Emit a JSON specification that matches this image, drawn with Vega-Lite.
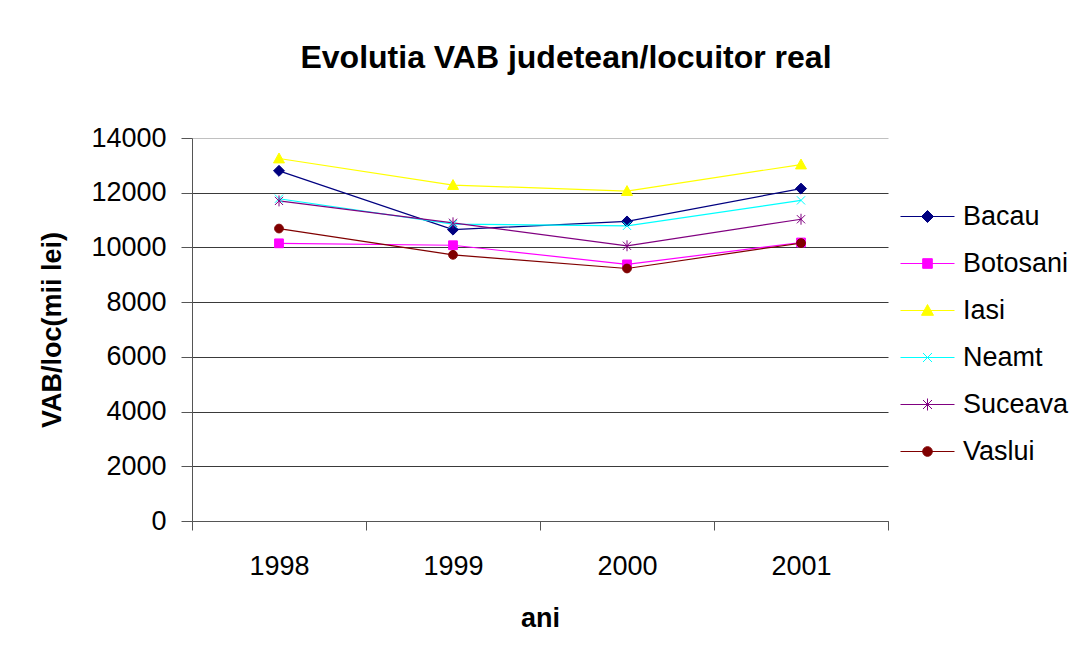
{
  "$schema": "https://vega.github.io/schema/vega-lite/v6.json",
  "width": 696,
  "height": 383,
  "autosize": {"type": "none"},
  "padding": {"left": 192, "top": 138, "right": 194, "bottom": 138},
  "background": "white",
  "title": {
    "text": "Evolutia VAB judetean/locuitor real",
    "font": "Liberation Sans",
    "fontSize": 32,
    "fontWeight": "bold",
    "color": "black",
    "anchor": "middle",
    "dx": 26,
    "offset": 49
  },
  "config": {
    "view": {"stroke": null},
    "font": "Liberation Sans"
  },
  "data": {
    "values": [
      {"ani": 1998, "judet": "Bacau", "vab": 12800},
      {"ani": 1999, "judet": "Bacau", "vab": 10650},
      {"ani": 2000, "judet": "Bacau", "vab": 10950},
      {"ani": 2001, "judet": "Bacau", "vab": 12150},
      {"ani": 1998, "judet": "Botosani", "vab": 10150},
      {"ani": 1999, "judet": "Botosani", "vab": 10080},
      {"ani": 2000, "judet": "Botosani", "vab": 9380},
      {"ani": 2001, "judet": "Botosani", "vab": 10180},
      {"ani": 1998, "judet": "Iasi", "vab": 13250},
      {"ani": 1999, "judet": "Iasi", "vab": 12280},
      {"ani": 2000, "judet": "Iasi", "vab": 12060},
      {"ani": 2001, "judet": "Iasi", "vab": 13030},
      {"ani": 1998, "judet": "Neamt", "vab": 11780},
      {"ani": 1999, "judet": "Neamt", "vab": 10850},
      {"ani": 2000, "judet": "Neamt", "vab": 10790},
      {"ani": 2001, "judet": "Neamt", "vab": 11720},
      {"ani": 1998, "judet": "Suceava", "vab": 11700},
      {"ani": 1999, "judet": "Suceava", "vab": 10900},
      {"ani": 2000, "judet": "Suceava", "vab": 10060},
      {"ani": 2001, "judet": "Suceava", "vab": 11030},
      {"ani": 1998, "judet": "Vaslui", "vab": 10690},
      {"ani": 1999, "judet": "Vaslui", "vab": 9730},
      {"ani": 2000, "judet": "Vaslui", "vab": 9230},
      {"ani": 2001, "judet": "Vaslui", "vab": 10160}
    ]
  },
  "encoding": {
    "x": {
      "field": "ani",
      "type": "quantitative",
      "scale": {"domain": [1997.5, 2001.5], "nice": false, "zero": false},
      "axis": {
        "title": "ani",
        "titleFont": "Liberation Sans",
        "titleFontSize": 27,
        "titleFontWeight": "bold",
        "titleColor": "black",
        "titlePadding": 26,
        "values": [1997.5, 1998.5, 1999.5, 2000.5, 2001.5],
        "labelExpr": "datum.value < 2001 ? toString(datum.value + 0.5) : ''",
        "labelOffset": 87,
        "labelFlush": false,
        "labelOverlap": false,
        "labelBound": false,
        "labelFontSize": 27,
        "labelColor": "black",
        "labelPadding": 23,
        "tickSize": 9,
        "tickColor": "#555",
        "domainColor": "#555",
        "grid": false
      }
    },
    "y": {
      "field": "vab",
      "type": "quantitative",
      "scale": {"domain": [0, 14000], "nice": false},
      "axis": {
        "title": "VAB/loc(mii lei)",
        "titleFont": "Liberation Sans",
        "titleFontSize": 27,
        "titleFontWeight": "bold",
        "titleColor": "black",
        "titlePadding": 24,
        "values": [0, 2000, 4000, 6000, 8000, 10000, 12000, 14000],
        "format": "d",
        "labelFontSize": 27,
        "labelColor": "black",
        "labelPadding": 15,
        "tickSize": 11,
        "tickColor": "#555",
        "domainColor": "#555",
        "grid": true,
        "gridColor": {"condition": {"test": "datum.value === 14000", "value": "#c0c0c0"}, "value": "#3a3a3a"},
        "gridOpacity": 1
      }
    },
    "color": {
      "field": "judet",
      "type": "nominal",
      "scale": {
        "domain": ["Bacau", "Botosani", "Iasi", "Neamt", "Suceava", "Vaslui"],
        "range": ["#000080", "#FF00FF", "#FFFF00", "#00FFFF", "#800080", "#800000"]
      },
      "legend": {
        "title": null,
        "orient": "none",
        "legendX": 722,
        "legendY": 65,
        "labelFont": "Liberation Sans",
        "labelFontSize": 27,
        "labelColor": "black",
        "symbolSize": 144,
        "labelOffset": 22,
        "rowPadding": 19,
        "encode": {
          "symbols": {
            "update": {
              "shape": {"signal": "datum.value === 'Bacau' ? 'M-4.5,0H4.5M0,-1L1,0L0,1L-1,0Z' : datum.value === 'Botosani' ? 'M-4.5,0H4.5M-0.8,-0.8H0.8V0.8H-0.8Z' : datum.value === 'Iasi' ? 'M-4.5,0H4.5M0,-1L1,0.8L-1,0.8Z' : datum.value === 'Neamt' ? 'M-4.5,0H4.5M-0.75,-0.75L0.75,0.75M-0.75,0.75L0.75,-0.75' : datum.value === 'Suceava' ? 'M-4.5,0H4.5M-0.75,-0.75L0.75,0.75M-0.75,0.75L0.75,-0.75M0,-1L0,1' : 'M-4.5,0H4.5M0.8,0A0.8,0.8,0,1,1,-0.8,0A0.8,0.8,0,1,1,0.8,0Z'"},
              "fill": {"scale": "color", "field": "value"},
              "stroke": {"scale": "color", "field": "value"},
              "strokeWidth": {"value": 1},
              "opacity": {"value": 1}
            }
          }
        }
      }
    }
  },
  "layer": [
    {
      "mark": {"type": "line", "strokeWidth": 1.2},
      "encoding": {}
    },
    {
      "mark": {
        "type": "point",
        "filled": true,
        "size": 120,
        "opacity": 1,
        "strokeWidth": 1,
        "shape": {"expr": "datum.judet === 'Bacau' ? 'M0,-1L1,0L0,1L-1,0Z' : datum.judet === 'Botosani' ? 'M-0.8,-0.8H0.8V0.8H-0.8Z' : datum.judet === 'Iasi' ? 'M0,-1L1,0.8L-1,0.8Z' : datum.judet === 'Neamt' ? 'M-0.75,-0.75L0.75,0.75M-0.75,0.75L0.75,-0.75' : datum.judet === 'Suceava' ? 'M-0.75,-0.75L0.75,0.75M-0.75,0.75L0.75,-0.75M0,-1L0,1' : 'M0.8,0A0.8,0.8,0,1,1,-0.8,0A0.8,0.8,0,1,1,0.8,0Z'"}
      },
      "encoding": {
        "stroke": {
          "field": "judet",
          "type": "nominal",
          "scale": {
            "domain": ["Bacau", "Botosani", "Iasi", "Neamt", "Suceava", "Vaslui"],
            "range": ["#000080", "#FF00FF", "#FFFF00", "#00FFFF", "#800080", "#800000"]
          },
          "legend": null
        }
      }
    }
  ]
}
